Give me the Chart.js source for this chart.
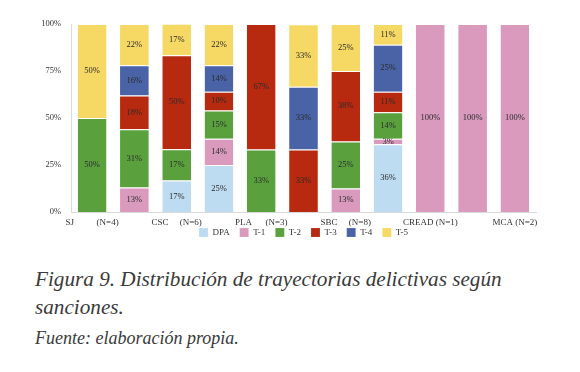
<!DOCTYPE html>
<html>
<head>
<meta charset="utf-8">
<script src="https://cdn.jsdelivr.net/npm/chart.js@4/dist/chart.umd.min.js"></script>
<style>
  body { margin: 0; background: #fff; width: 580px; height: 372px; overflow: hidden; }
  #wrap { position: relative; width: 580px; height: 247px; }
  .caption { font-family: "Liberation Serif", "DejaVu Serif", serif; font-style: italic; color: #3a3a3a; margin: 0; padding-left: 35px; }
  #fig { font-size: 21.2px; line-height: 28px; margin-top: 18px; }
  #src { font-size: 18px; margin-top: 7px; }
</style>
</head>
<body>
<div id="wrap"><canvas id="chart"></canvas></div>
<p class="caption" id="fig">Figura 9. Distribución de trayectorias delictivas según<br>sanciones.</p>
<p class="caption" id="src">Fuente: elaboración propia.</p>
<script>
// categories: one label every second bar, as in the source figure
const categories = ["SJ\u00a0\u00a0\u00a0\u00a0\u00a0\u00a0\u00a0\u00a0\u00a0\u00a0(N=4)", "", "CSC\u00a0\u00a0\u00a0\u00a0\u00a0(N=6)", "", "PLA\u00a0\u00a0\u00a0\u00a0\u00a0\u00a0(N=3)", "", "SBC\u00a0\u00a0\u00a0\u00a0\u00a0(N=8)", "", "CREAD (N=1)", "", "MCA (N=2)"];

// percentages per trajectory type
const dpa = [0, 0, 16.7, 25, 0, 0, 0, 36, 0, 0, 0];
const t1 = [0, 13, 0, 14, 0, 0, 12.5, 3, 100, 100, 100];
const t2 = [50, 31, 16.7, 15, 33.3, 0, 25, 14, 0, 0, 0];
const t3 = [0, 18, 50, 10, 66.7, 33.3, 37.5, 11, 0, 0, 0];
const t4 = [0, 16, 0, 14, 0, 33.3, 0, 25, 0, 0, 0];
const t5 = [50, 22, 16.7, 22, 0, 33.3, 25, 11, 0, 0, 0];

const yTicks = [0, 25, 50, 75, 100];

const serif = "'Liberation Serif', 'DejaVu Serif', serif";

function ds(label, data, color) {
    return {
        label: label,
        data: data,
        backgroundColor: color,
        borderColor: "rgba(255,255,255,0.6)",
        borderWidth: { top: 1 },
        borderSkipped: false
    };
}

// draw value labels in the middle of every segment
const segmentLabels = {
    id: "segmentLabels",
    afterDatasetsDraw(chart) {
        const ctx = chart.ctx;
        ctx.save();
        ctx.font = "8.5px " + serif;
        ctx.fillStyle = "#2b2b2b";
        ctx.textAlign = "center";
        ctx.textBaseline = "middle";
        chart.data.datasets.forEach((d, i) => {
            const meta = chart.getDatasetMeta(i);
            meta.data.forEach((bar, j) => {
                const v = d.data[j];
                if (!v) return;
                const y = (bar.y + bar.base) / 2;
                ctx.fillText(Math.round(v) + "%", bar.x, y);
            });
        });
        ctx.restore();
    }
};

new Chart("chart", {
    type: "bar",
    data: {
        labels: categories,
        datasets: [
            ds("DPA", dpa, "#bddcf2"),
            ds("T-1", t1, "#d99abd"),
            ds("T-2", t2, "#5aa13e"),
            ds("T-3", t3, "#b72a10"),
            ds("T-4", t4, "#4a62a6"),
            ds("T-5", t5, "#f6d864")
        ]
    },
    options: {
        responsive: true,
        maintainAspectRatio: false,
        animation: false,
        barPercentage: 0.68,
        categoryPercentage: 1,
        layout: { padding: { top: 24, right: 44, bottom: 0, left: 0 } },
        plugins: {
            legend: {
                position: "bottom",
                fullSize: false,
                labels: {
                    boxWidth: 9,
                    boxHeight: 9,
                    padding: 10,
                    color: "#333",
                    font: { family: serif, size: 9 }
                }
            },
            tooltip: { enabled: false }
        },
        scales: {
            x: {
                stacked: true,
                afterFit(scale) { scale.height = 6; },
                grid: { display: false, drawTicks: false },
                border: { color: "#d9d9d9" },
                ticks: {
                    autoSkip: false,
                    maxRotation: 0,
                    mirror: true,
                    padding: -16,
                    color: "#333",
                    font: { family: serif, size: 9 }
                }
            },
            y: {
                stacked: true,
                min: 0,
                max: 100,
                afterFit(scale) { scale.width = 71; },
                afterBuildTicks(scale) { scale.ticks = yTicks.map(v => ({ value: v })); },
                grid: { display: false, drawTicks: false },
                border: { color: "#d9d9d9" },
                ticks: {
                    padding: 10,
                    color: "#333",
                    font: { family: serif, size: 8.5 },
                    callback: v => v + "%"
                }
            }
        }
    },
    plugins: [segmentLabels]
});
</script>
</body>
</html>
